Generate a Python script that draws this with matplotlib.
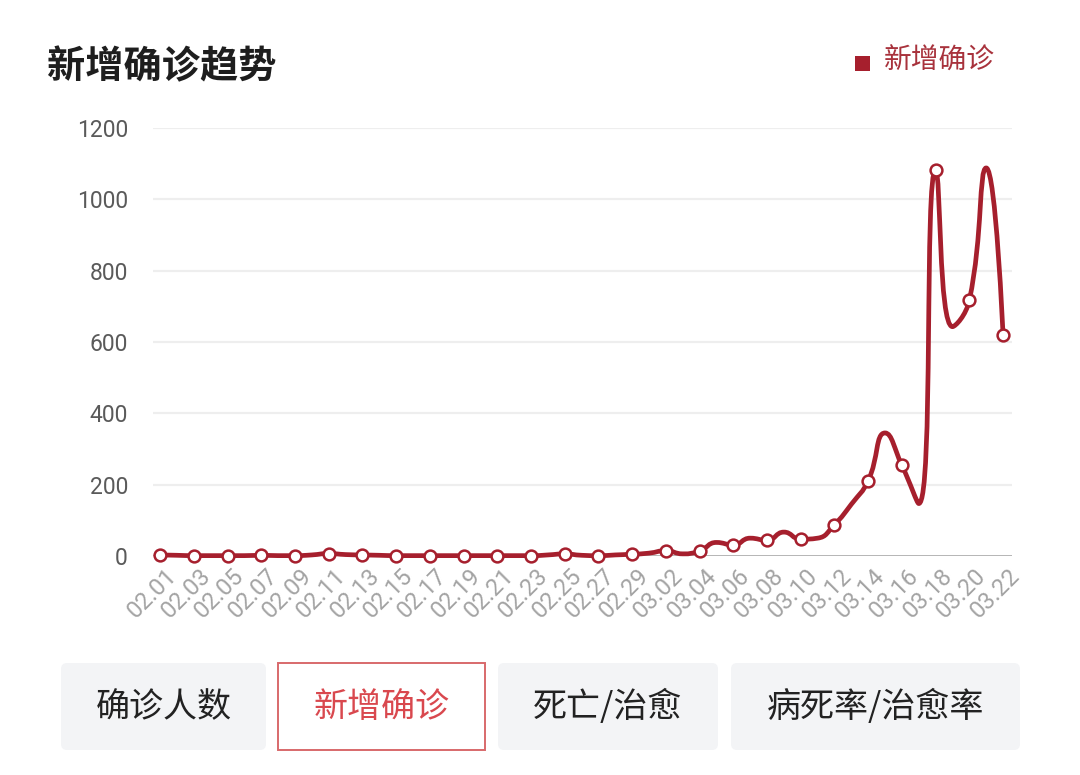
import numpy as np
import pandas as pd
import matplotlib
matplotlib.use("Agg")
import matplotlib.pyplot as plt
from matplotlib.path import Path
from matplotlib.patches import PathPatch, FancyBboxPatch, Rectangle
from matplotlib.transforms import ScaledTranslation

plt.rcParams['font.family'] = ['Roboto', 'Noto Sans CJK SC', 'DejaVu Sans']

# ---------------- data ----------------
title = "新增确诊趋势"
series_name = "新增确诊"
dates = [d.strftime("%m.%d") for d in pd.date_range("2020-02-01", "2020-03-22", freq="D")]
new_cases = [3, 2, 1, 1, 1, 1, 2, 1, 1, 3,
             7, 4, 3, 2, 1, 1, 1, 1, 1, 1,
             1, 1, 1, 3, 6, 2, 1, 3, 5, 8,
             15, 6, 14, 38, 31, 50, 44, 67, 47, 50,
             88, 145, 211, 345, 254, 147, 1082, 643, 717, 1088,
             619]
y_ticks = [0, 200, 400, 600, 800, 1000, 1200]
buttons = ["确诊人数", "新增确诊", "死亡/治愈", "病死率/治愈率"]
active_button = 1

LINE = '#a61f2d'
W, H = 1080, 775

fig = plt.figure(figsize=(W / 100, H / 100), dpi=100)
fig.patch.set_facecolor('white')

# background overlay in pixel coords
bg = fig.add_axes([0, 0, 1, 1], zorder=-1)
bg.set_xlim(0, W)
bg.set_ylim(H, 0)
bg.axis('off')

# plot axes
x0, x1 = 153, 1012
ytop, ybot = 128, 556
ax = fig.add_axes([x0 / W, 1 - ybot / H, (x1 - x0) / W, (ybot - ytop) / H])
n = len(dates)
xs = np.arange(n)
ax.set_xlim(-0.42, n - 1 + 0.53)
ax.set_ylim(0, 1200)
for s in ax.spines.values():
    s.set_visible(False)
ax.set_yticks(y_ticks)
ax.set_yticklabels([str(v) for v in y_ticks])
ax.tick_params(axis='y', length=0, pad=18, labelsize=16.5, labelcolor='#5a5a5a')
for v in y_ticks[1:]:
    ax.axhline(v, color='#eeeeee', lw=1.6, zorder=0)
ax.axhline(0, color='#a0a0a0', lw=1.8, zorder=1)

ax.set_xticks(xs[::2])
ax.set_xticklabels(dates[::2], rotation=45, ha='right', va='top',
                   rotation_mode='anchor', fontsize=17, color='#a3a3a3')
ax.tick_params(axis='x', length=0, pad=6)
shift = ScaledTranslation(5 / 100, 0, fig.dpi_scale_trans)
for lab in ax.get_xticklabels():
    lab.set_transform(lab.get_transform() + shift)

# ECharts-like smooth line (computed in display space)
fig.canvas.draw()
pts = ax.transData.transform(np.column_stack([xs, new_cases]))
smooth = 0.5
verts = [tuple(pts[0])]
codes = [Path.MOVETO]
cp0 = pts[0].copy()
for i in range(1, n):
    x, y = pts[i]
    px, py = pts[i - 1]
    if i == n - 1:
        cp1 = np.array([x, y])
        nxt_cp0 = None
    else:
        nx, ny = pts[i + 1]
        vx, vy = nx - px, ny - py
        lp = np.hypot(x - px, y - py)
        ln = np.hypot(nx - x, ny - y)
        r = ln / (ln + lp)
        ncx = x + vx * smooth * r
        ncy = y + vy * smooth * r
        ncx = min(ncx, max(nx, x)); ncy = min(ncy, max(ny, y))
        ncx = max(ncx, min(nx, x)); ncy = max(ncy, min(ny, y))
        vx, vy = ncx - x, ncy - y
        c1x = x - vx * lp / ln
        c1y = y - vy * lp / ln
        c1x = min(c1x, max(px, x)); c1y = min(c1y, max(py, y))
        c1x = max(c1x, min(px, x)); c1y = max(c1y, min(py, y))
        vx, vy = x - c1x, y - c1y
        ncx = x + vx * ln / lp
        ncy = y + vy * ln / lp
        cp1 = np.array([c1x, c1y])
        nxt_cp0 = np.array([ncx, ncy])
    verts += [tuple(cp0), tuple(cp1), (x, y)]
    codes += [Path.CURVE4] * 3
    if nxt_cp0 is not None:
        cp0 = nxt_cp0
data_verts = ax.transData.inverted().transform(np.array(verts))
ax.add_patch(PathPatch(Path(data_verts, codes), facecolor='none', edgecolor=LINE,
                       lw=3.4, zorder=3, clip_on=False, capstyle='round', joinstyle='round'))
ax.plot(xs[::2], np.array(new_cases)[::2], linestyle='none', marker='o', markersize=8.5,
        markerfacecolor='white', markeredgecolor=LINE, markeredgewidth=1.8,
        zorder=4, clip_on=False)

# title and legend
bg.text(47, 67, title, fontsize=27.5, fontweight='bold', color='#1e1e1e',
        ha='left', va='center', family=['Noto Sans CJK SC'])
bg.add_patch(Rectangle((855, 56), 15, 15, color=LINE, lw=0))
bg.text(884, 61, series_name, fontsize=20, color='#a8323c', ha='left', va='center',
        family=['Noto Sans CJK SC'])

# buttons
boxes = [(61, 266), (278, 485), (498, 718), (731, 1020)]
by0, by1 = 663, 750
for i, ((bx0, bx1), label) in enumerate(zip(boxes, buttons)):
    if i == active_button:
        p = FancyBboxPatch((bx0, by0), bx1 - bx0, by1 - by0,
                           boxstyle="square,pad=0", facecolor='white',
                           edgecolor='#d8696b', lw=1.4)
        col = '#d9484e'
    else:
        p = FancyBboxPatch((bx0, by0), bx1 - bx0, by1 - by0,
                           boxstyle="round,pad=0,rounding_size=6", facecolor='#f3f4f6',
                           edgecolor='none')
        col = '#222222'
    bg.add_patch(p)
    bg.text((bx0 + bx1) / 2, (by0 + by1) / 2 + 1, label, fontsize=24.5, color=col,
            ha='center', va='center', family=['Noto Sans CJK SC', 'DejaVu Sans'])

fig.savefig("out.png", dpi=100)
